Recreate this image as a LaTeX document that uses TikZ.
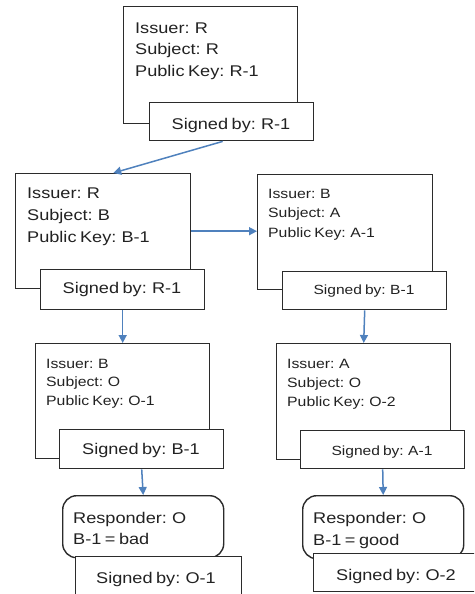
\documentclass[tikz,border=0pt]{standalone}
\usepackage{fontspec}
\setmainfont{Liberation Sans}[FakeStretch=1.17, WordSpace=0.7]
\usetikzlibrary{arrows.meta}
\definecolor{arrowblue}{HTML}{4F81BD}
\definecolor{edgegray}{HTML}{2B2B2B}
\definecolor{ink}{HTML}{222222}
\tikzset{
  certbox/.style={draw=edgegray, line width=1.4pt, fill=white, inner sep=0pt, anchor=north west},
  respbox/.style={certbox, rounded corners=14pt},
  bigtxt/.style={inner sep=0pt, anchor=base west, text=ink, font=\fontsize{15.5}{18}\selectfont},
  smalltxt/.style={inner sep=0pt, anchor=base west, text=ink, font=\fontsize{13.5}{16}\selectfont},
  bigsig/.style={inner sep=0pt, anchor=base, text=ink, font=\fontsize{15.5}{18}\selectfont},
  smallsig/.style={inner sep=0pt, anchor=base, text=ink, font=\fontsize{13.3}{16}\selectfont},
  arr/.style={draw=arrowblue, line width=1.5pt, -{Triangle[length=8pt,width=8pt]}}
}
\begin{document}
\begin{tikzpicture}[x=1pt,y=-1pt]
\useasboundingbox (0,0) rectangle (474,594);
\clip (0,0) rectangle (474,594);
% root certificate
\node[certbox, minimum width=174pt, minimum height=117pt] (R) at (123,6) {};
\node[bigtxt] (R1) at (135,34) {Issuer: R};
\node[bigtxt] (R2) at (135,55) {Subject: R};
\node[bigtxt] (R3) at (135,76) {Public Key: R-1};
\node[certbox, minimum width=164pt, minimum height=38pt] (sR) at (149,102) {};
\node[bigsig] (sRt) at (231,129) {Signed by: R-1};
% B certificate
\node[certbox, minimum width=175pt, minimum height=115pt] (B) at (15,173) {};
\node[bigtxt] (B1) at (27,198) {Issuer: R};
\node[bigtxt] (B2) at (27,220) {Subject: B};
\node[bigtxt] (B3) at (27,242) {Public Key: B-1};
\node[certbox, minimum width=164pt, minimum height=40pt] (sB) at (40,269) {};
\node[bigsig] (sBt) at (122,293) {Signed by: R-1};
% A certificate
\node[certbox, minimum width=175pt, minimum height=115pt] (A) at (257,174) {};
\node[smalltxt] (A1) at (268,198) {Issuer: B};
\node[smalltxt] (A2) at (268,217) {Subject: A};
\node[smalltxt] (A3) at (268,237) {Public Key: A-1};
\node[certbox, minimum width=164pt, minimum height=38pt] (sA) at (282,271) {};
\node[smallsig] (sAt) at (364,294) {Signed by: B-1};
% O-1 certificate
\node[certbox, minimum width=174pt, minimum height=115pt] (O1) at (35,343) {};
\node[smalltxt] (O11) at (46,368) {Issuer: B};
\node[smalltxt] (O12) at (46,386) {Subject: O};
\node[smalltxt] (O13) at (46,405) {Public Key: O-1};
\node[certbox, minimum width=164pt, minimum height=39pt] (sO1) at (59,429) {};
\node[bigsig] (sO1t) at (141,454) {Signed by: B-1};
% O-2 certificate
\node[certbox, minimum width=174pt, minimum height=116pt] (O2) at (276,343) {};
\node[smalltxt] (O21) at (287,368) {Issuer: A};
\node[smalltxt] (O22) at (287,387) {Subject: O};
\node[smalltxt] (O23) at (287,406) {Public Key: O-2};
\node[certbox, minimum width=164pt, minimum height=38pt] (sO2) at (300,430) {};
\node[smallsig] (sO2t) at (382,455) {Signed by: A-1};
% responders
\node[respbox, minimum width=161pt, minimum height=62pt] (RL) at (62,495) {};
\node[bigtxt] (RL1) at (73,523) {Responder: O};
\node[bigtxt] (RL2) at (73,544) {B-1 = bad};
\node[certbox, minimum width=166pt, minimum height=45pt] (sRL) at (75,556) {};
\node[bigsig] (sRLt) at (156,583) {Signed by: O-1};
\node[respbox, minimum width=161pt, minimum height=63pt] (RR) at (302,495) {};
\node[bigtxt] (RR1) at (313,523) {Responder: O};
\node[bigtxt] (RR2) at (313,545) {B-1 = good};
\node[certbox, minimum width=167pt, minimum height=38pt] (sRR) at (313,553) {};
\node[bigsig] (sRRt) at (396,580) {Signed by: O-2};
% connectors
\draw[arr] ([xshift=-9pt]sR.south) -- ([xshift=10pt]B.north);
\draw[arr] (B.east) -- (B.east -| A.west);
\draw[arr] (sB.south) -- (O1.north);
\draw[arr] (sA.south) -- (O2.north);
\draw[arr] (sO1.south) -- (RL.north);
\draw[arr] (sO2.south) -- (RR.north);
\end{tikzpicture}
\end{document}
